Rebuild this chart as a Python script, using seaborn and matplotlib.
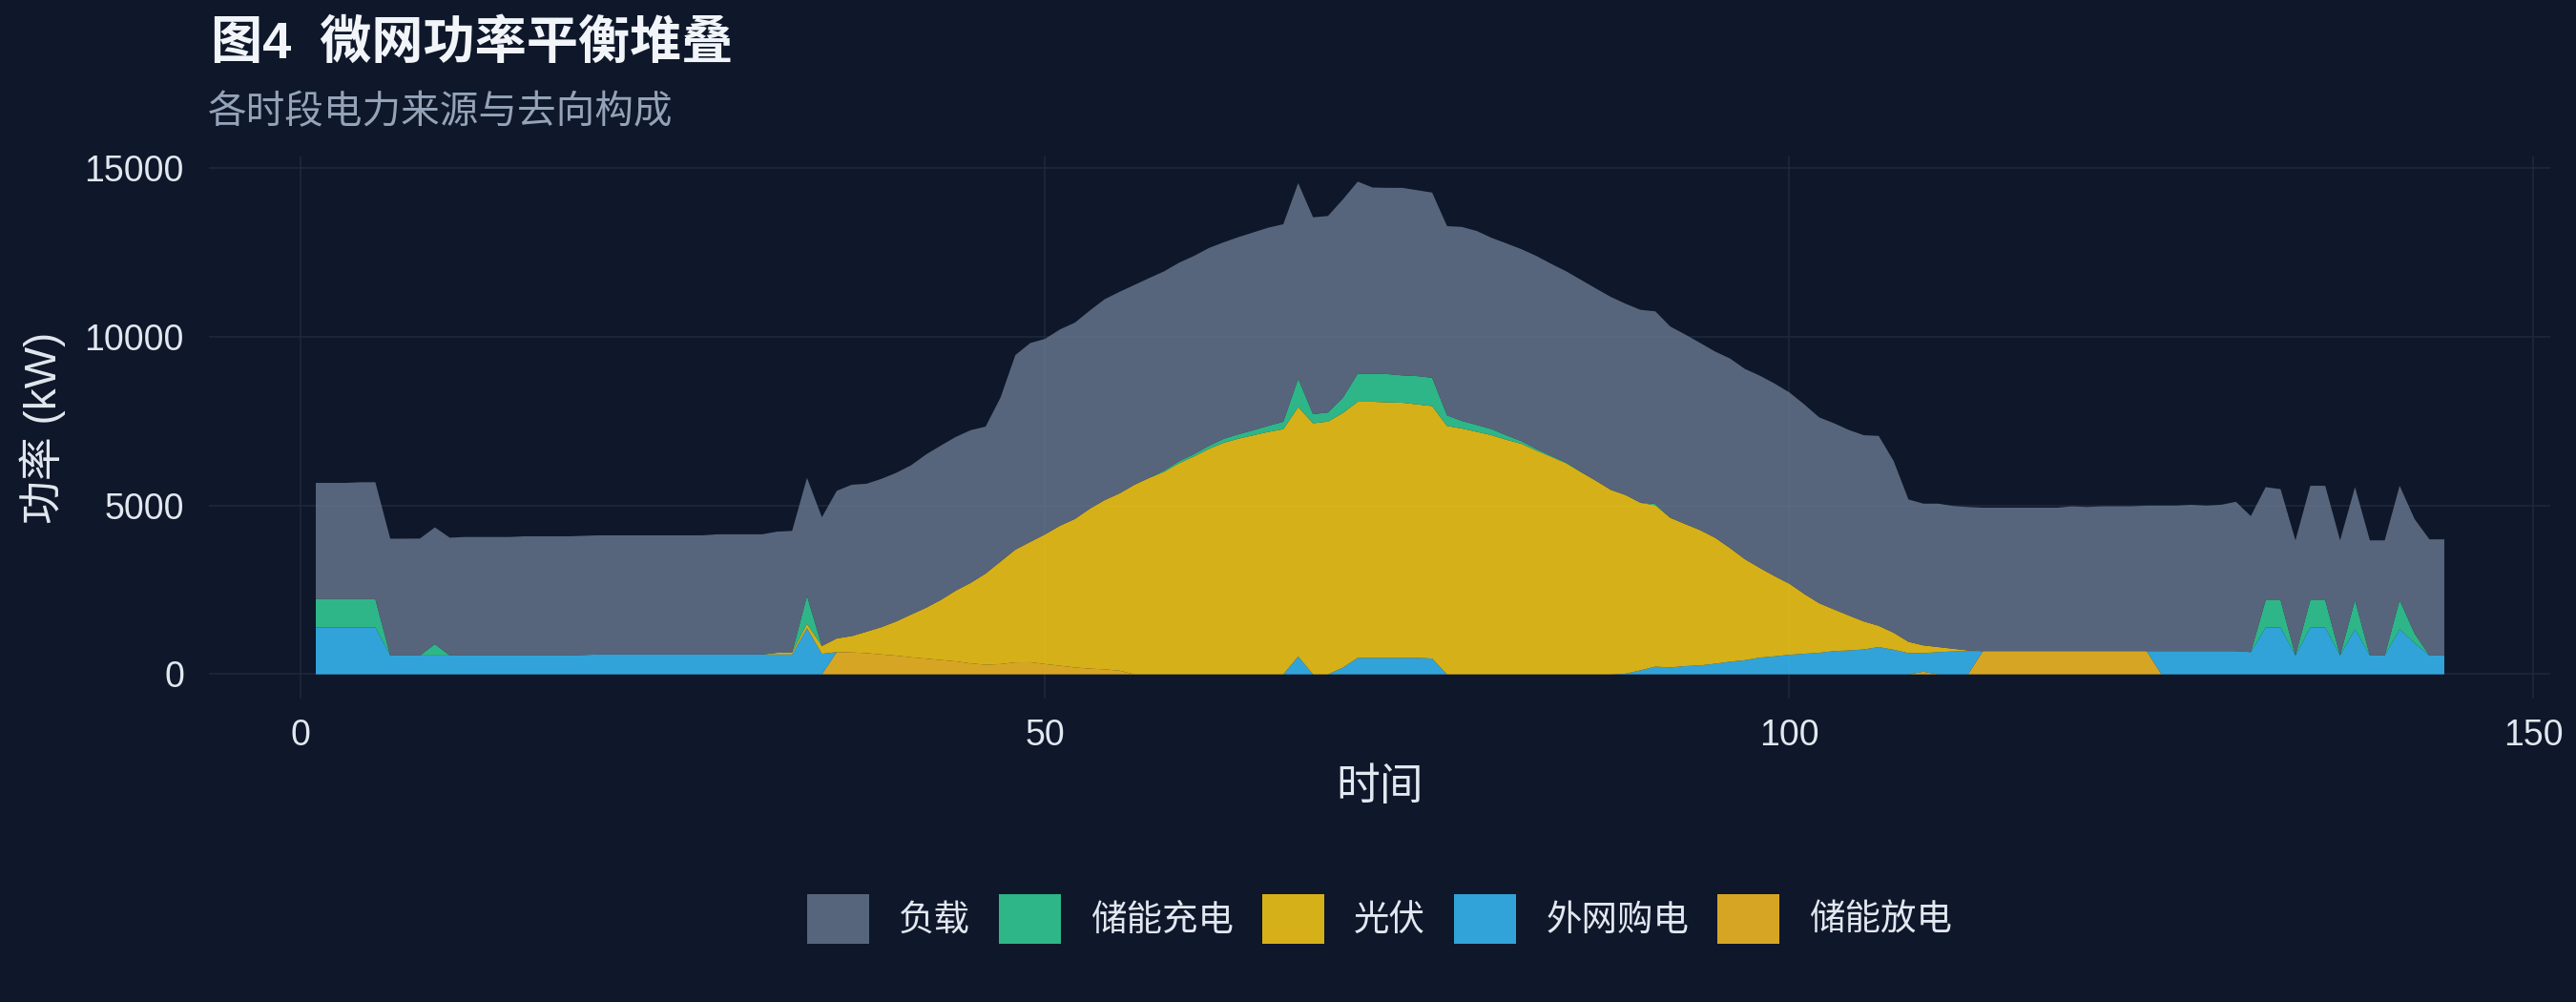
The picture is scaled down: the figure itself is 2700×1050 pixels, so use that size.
import numpy as np
import pandas as pd
import matplotlib
matplotlib.use("Agg")
import matplotlib.pyplot as plt
from matplotlib.patches import Patch
import seaborn as sns

# 时间轴 (1..144)
time = list(range(1, 145))

# 各序列数值 (kW)，按堆叠顺序自下而上
discharge = ([0] * 35 +
             [660, 650, 630, 590, 555, 505, 465, 425, 385, 325,
              285, 305, 355, 360, 305, 255, 205, 170, 150, 110] +
             [0] * 53 + [80] + [0] * 3 + [690] * 12 + [0] * 20)

grid_buy = ([1390] * 5 + [560] * 13 + [575] + [590] * 14 + [1370, 610] +
            [0] * 31 + [530, 0, 0, 200] + [490] * 5 + [470] + [0] * 12 +
            [20, 120, 230, 205, 245, 265, 315, 375, 420, 495, 535, 580,
             610, 640, 690, 710, 740, 810, 730, 630, 550, 660, 680, 690] +
            [0] * 12 + [690] * 6 +
            [660, 1390, 1390, 560, 1390, 1390, 560, 1340, 560, 560, 1340, 930, 560, 560])

pv = ([0] * 31 + [50, 60, 130, 230] +
      [405, 485, 635, 810, 1015, 1270, 1510, 1785, 2100, 2390,
       2705, 3040, 3345, 3570, 3850, 4155, 4405, 4745, 5020, 5260,
       5625, 5830, 6010, 6265, 6465, 6690, 6870, 6995, 7095, 7195,
       7275, 7400, 7450, 7500, 7555, 7600, 7600, 7580, 7570, 7520,
       7490, 7370, 7295, 7195, 7095, 6960, 6840, 6640, 6455, 6265,
       6000, 5745, 5475, 5300, 4970, 4785, 4440, 4215, 4015, 3740,
       3375, 3000, 2665, 2380, 2110, 1775, 1470, 1235, 1035, 830,
       630, 505, 335, 230, 150, 80, 20] +
      [0] * 32)

charge = ([840] * 5 + [0] * 3 + [335] + [0] * 24 + [830] + [0] * 23 +
          [40, 60, 70, 90, 120, 130, 150, 180, 220, 840,
           270, 270, 450, 830, 830, 840, 810, 840, 840, 315,
           225, 205, 180, 130, 80, 50, 30, 20, 10, 0,
           0, 0, 10, 40] +
          [0] * 40 +
          [810, 810, 0, 810, 810, 0, 860, 0, 0, 860, 285, 0, 0])

load = ([3450, 3450, 3450, 3470, 3470, 3465, 3465, 3470, 3465, 3495] +
        [3515] * 4 + [3535] * 13 + [3565] * 4 +
        [3595, 3605, 3500, 3820, 4380, 4490, 4390, 4400, 4410, 4430,
         4550, 4580, 4560, 4530, 4360, 4865, 5775, 5900, 5800, 5825,
         5825, 5880, 5960, 5980, 5930, 5930, 5910, 5890, 5880, 5870,
         5830, 5850, 5870, 5880, 5860, 5805, 5840, 5830, 5885, 5700,
         5525, 5525, 5565, 5515, 5495, 5615, 5755, 5755, 5675, 5695,
         5695, 5725, 5695, 5675, 5695, 5705, 5725, 5675, 5715, 5715,
         5675, 5625, 5555, 5525, 5625, 5645, 5705, 5715, 5675, 5625,
         5515, 5525, 5505, 5525, 5635, 5100, 4225, 4205, 4255, 4235,
         4255] +
        [4255] * 6 + [4295, 4275, 4295, 4295, 4295, 4315, 4315, 4315,
                      4340, 4315, 4340, 4430, 4035, 3355, 3295, 3415, 3395,
                      3395, 3415, 3355, 3415, 3415, 3395, 3395, 3445, 3445])

series_names = ["负载", "储能充电", "光伏", "外网购电", "储能放电"]
series_colors = ["#64748B", "#34D399", "#FACC15", "#38BDF8", "#FBBF24"]

df = pd.DataFrame({
    "time": time,
    "储能放电": discharge,
    "外网购电": grid_buy,
    "光伏": pv,
    "储能充电": charge,
    "负载": load,
})

bg = "#0F172A"
grid_col = "#1E293B"
text_col = "#E2E8F0"
sub_col = "#94A3B8"

sns.set_theme(style="darkgrid", rc={
    "figure.facecolor": bg,
    "axes.facecolor": bg,
    "savefig.facecolor": bg,
    "grid.color": grid_col,
    "grid.linewidth": 0.8,
    "axes.edgecolor": bg,
    "text.color": text_col,
    "xtick.color": text_col,
    "ytick.color": text_col,
    "axes.labelcolor": text_col,
})
plt.rcParams["font.family"] = ["Liberation Sans", "Noto Sans CJK SC", "DejaVu Sans"]

fig = plt.figure(figsize=(18, 7), dpi=150)
ax = fig.add_axes([0.0811, 0.3029, 0.9089, 0.5409])

# 堆叠顺序：放电在底，负载在顶
stack_order = ["储能放电", "外网购电", "光伏", "储能充电", "负载"]
color_map = dict(zip(series_names, series_colors))
ax.stackplot(df["time"], [df[c] for c in stack_order],
             colors=[color_map[c] for c in stack_order],
             alpha=0.85, linewidth=0)

total = df[stack_order].sum(axis=1).max()
span = df["time"].max() - df["time"].min()
ax.set_xlim(df["time"].min() - 0.05 * span, df["time"].max() + 0.05 * span)
ax.set_ylim(-0.05 * total, 1.05 * total)

ax.set_xticks([0, 50, 100, 150])
ax.set_yticks([0, 5000, 10000, 15000])
ax.set_yticklabels(["0", "5000", "10000", "15000"])
ax.tick_params(axis="both", length=0, labelsize=18, colors=text_col)
ax.tick_params(axis="y", pad=12.5)
ax.tick_params(axis="x", pad=10)
ax.grid(True, which="major", color=grid_col, linewidth=0.8)
ax.set_axisbelow(True)
sns.despine(ax=ax, left=True, bottom=True)

ax.set_xlabel("时间", fontsize=22, color=text_col, va="center")
ax.xaxis.set_label_coords(0.5, -0.1655)
ax.set_ylabel("功率 (kW)", fontsize=22, color=text_col, va="center")
ax.yaxis.set_label_coords(-0.0709, 0.5)

fig.text(0.0819, 0.956, "图4  微网功率平衡堆叠", fontsize=26, fontweight="bold",
         color="#F1F5F9", ha="left", va="center")
fig.text(0.0807, 0.8876, "各时段电力来源与去向构成", fontsize=19.5,
         color=sub_col, ha="left", va="center")

handles = [Patch(facecolor=color_map[n], alpha=0.85, linewidth=0) for n in series_names]
fig.legend(handles, series_names, loc="center", bbox_to_anchor=(0.5356, 0.083),
           ncol=5, frameon=False, fontsize=18, labelcolor=text_col,
           handlelength=1.73, handleheight=1.73, handletextpad=0.83,
           columnspacing=0.8)

fig.savefig("out.png", dpi=150, facecolor=bg)
